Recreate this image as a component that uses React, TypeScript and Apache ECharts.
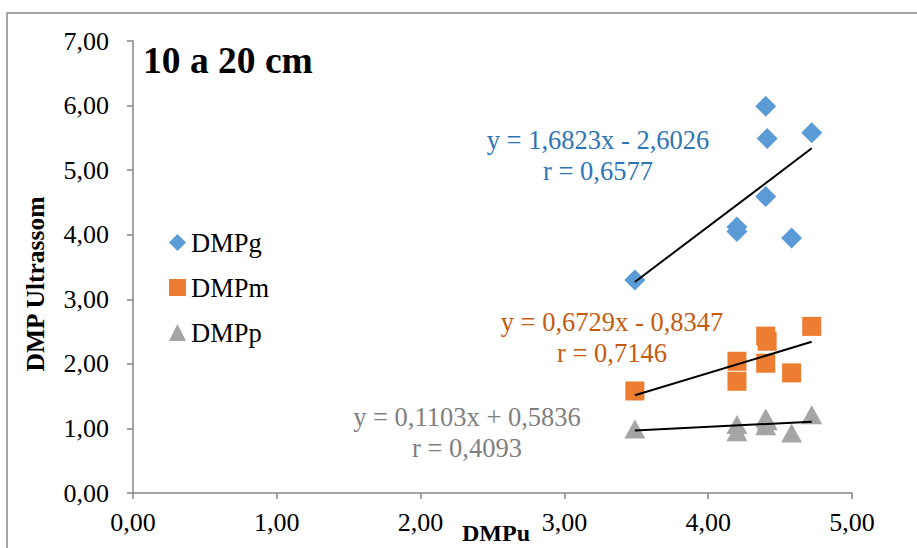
import React, { useEffect, useRef } from "react";
import * as echarts from "echarts";

const dmpu = [3.49, 4.2, 4.2, 4.4, 4.4, 4.41, 4.58, 4.72];
const dmpg = [3.3, 4.12, 4.05, 5.99, 4.59, 5.49, 3.95, 5.58];
const dmpm = [1.58, 2.04, 1.73, 2.43, 2.01, 2.35, 1.86, 2.58];
const dmpp = [0.99, 1.06, 0.95, 1.16, 1.04, 1.12, 0.93, 1.21];

const seriesNames = ["DMPg", "DMPm", "DMPp"];
const slopes = [1.6823, 0.6729, 0.1103];
const intercepts = [-2.6026, -0.8347, 0.5836];
const equations = ["y = 1,6823x - 2,6026", "y = 0,6729x - 0,8347", "y = 0,1103x + 0,5836"];
const rValues = ["r = 0,6577", "r = 0,7146", "r = 0,4093"];

const title = "10 a 20 cm";
const xTitle = "DMPu";
const yTitle = "DMP Ultrassom";

const markerColors = ["#5B9BD5", "#ED7D31", "#A5A5A5"];
const textColors = ["#2E75B6", "#C55A11", "#7F7F7F"];
const symbols = ["diamond", "rect", "triangle"];
const symbolSizes = [21, 19, [21, 19]];
const eqPos = [
  [598, 140],
  [612, 322],
  [467, 417],
];

const FONT = '"Liberation Serif", "Times New Roman", serif';
const FS = 26.5;
const fmt = (v: number) => v.toFixed(2).replace(".", ",");

export default function App() {
  const ref = useRef<HTMLDivElement>(null);
  useEffect(() => {
    if (!ref.current) return;
    const chart = echarts.init(ref.current, null, { renderer: "svg" });
    const ys = [dmpg, dmpm, dmpp];
    const xMin = Math.min(...dmpu);
    const xMax = Math.max(...dmpu);

    const scatter = ys.map((arr, i) => ({
      name: seriesNames[i],
      type: "scatter",
      symbol: symbols[i],
      symbolSize: symbolSizes[i],
      itemStyle: { color: markerColors[i], opacity: 1 },
      data: dmpu.map((x, j) => [x, arr[j]]),
      z: 2,
    }));
    const trends = slopes.map((s, i) => ({
      name: seriesNames[i] + " trend",
      type: "line",
      symbol: "none",
      silent: true,
      lineStyle: { color: "#000", width: 2 },
      data: [
        [xMin, s * xMin + intercepts[i]],
        [xMax, s * xMax + intercepts[i]],
      ],
      z: 3,
    }));

    const eqGraphics: any[] = [];
    equations.forEach((eq, i) => {
      eqGraphics.push({
        type: "text",
        x: eqPos[i][0],
        y: eqPos[i][1],
        style: {
          text: eq,
          fill: textColors[i],
          font: `${FS}px ${FONT}`,
          align: "center",
          verticalAlign: "middle",
        },
      });
      eqGraphics.push({
        type: "text",
        x: eqPos[i][0],
        y: eqPos[i][1] + 31,
        style: {
          text: rValues[i],
          fill: textColors[i],
          font: `${FS}px ${FONT}`,
          align: "center",
          verticalAlign: "middle",
        },
      });
    });

    chart.setOption({
      animation: false,
      backgroundColor: "#fff",
      grid: { left: 133, right: 65, top: 41, bottom: 55 },
      legend: {
        data: seriesNames,
        orient: "vertical",
        left: 164,
        top: 224,
        itemWidth: 17,
        itemHeight: 17,
        itemGap: 18,
        textStyle: { fontFamily: FONT, fontSize: FS, color: "#000", lineHeight: 26 },
      },
      xAxis: {
        type: "value",
        min: 0,
        max: 5,
        interval: 1,
        axisLine: { lineStyle: { color: "#868686", width: 1.5 } },
        axisTick: { show: true, length: 6, lineStyle: { color: "#868686", width: 1.5 } },
        axisLabel: { formatter: fmt, fontFamily: FONT, fontSize: 26, color: "#000", margin: 16 },
        splitLine: { show: false },
      },
      yAxis: {
        type: "value",
        min: 0,
        max: 7,
        interval: 1,
        axisLine: { show: true, lineStyle: { color: "#868686", width: 1.5 } },
        axisTick: { show: true, length: 6, lineStyle: { color: "#868686", width: 1.5 } },
        axisLabel: { formatter: fmt, fontFamily: FONT, fontSize: 26, color: "#000", margin: 24 },
        splitLine: { show: false },
      },
      graphic: [
        {
          type: "rect",
          shape: { x: 7, y: 13, width: 960, height: 600 },
          style: { fill: "none", stroke: "#898989", lineWidth: 1.5 },
          silent: true,
        },
        {
          type: "text",
          x: 143,
          y: 60,
          style: {
            text: title,
            fill: "#000",
            font: `bold 37.5px ${FONT}`,
            align: "left",
            verticalAlign: "middle",
          },
        },
        {
          type: "text",
          x: 496,
          y: 533,
          style: {
            text: xTitle,
            fill: "#000",
            font: `bold 24px ${FONT}`,
            align: "center",
            verticalAlign: "middle",
          },
        },
        {
          type: "text",
          x: 35,
          y: 284,
          rotation: Math.PI / 2,
          style: {
            text: yTitle,
            fill: "#000",
            font: `bold 25.5px ${FONT}`,
            align: "center",
            verticalAlign: "middle",
          },
        },
        ...eqGraphics,
      ],
      series: [...scatter, ...trends],
    });
    return () => chart.dispose();
  }, []);
  return (
    <div
      ref={ref}
      style={{ position: "fixed", left: 0, top: 0, width: 917, height: 548, background: "#fff" }}
    />
  );
}
